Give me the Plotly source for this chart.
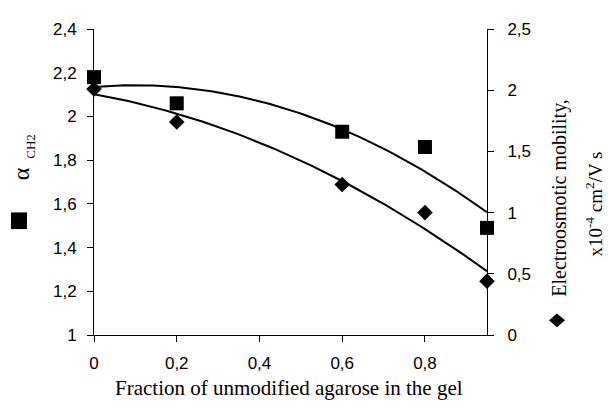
import numpy as np
import plotly.graph_objects as go

# ---- data ----
fraction = [0, 0.2, 0.6, 0.8, 0.95]
alpha_ch2 = [2.18, 2.06, 1.93, 1.86, 1.49]          # left axis (squares)
eo_mobility = [2.01, 1.74, 1.23, 1.00, 0.44]        # right axis (diamonds)
x_ticks = [0, 0.2, 0.4, 0.6, 0.8]
left_ticks = [1, 1.2, 1.4, 1.6, 1.8, 2, 2.2, 2.4]
right_ticks = [0, 0.5, 1, 1.5, 2, 2.5]

# quadratic trend lines (as in the spreadsheet original)
xs = np.linspace(min(fraction), max(fraction), 120)
fit_a = np.polyval(np.polyfit(fraction, alpha_ch2, 2), xs)
fit_e = np.polyval(np.polyfit(fraction, eo_mobility, 2), xs)

OFF = 8  # default page body margin
W, H = 613 - OFF, 408 - OFF
L, T = 94 - OFF, 23 - OFF
R, B = 126, 73
PW, PH = W - L - R, H - T - B


def px(x):
    return (x - OFF - L) / PW


def py(y):
    return (H - B - (y - OFF)) / PH


TICKFONT = dict(family="Liberation Sans, Arial", size=17, color="black")
SERIF = "Liberation Serif, Times New Roman"

fig = go.Figure()
fig.add_trace(go.Scatter(x=xs, y=fit_a, mode="lines",
                         line=dict(color="black", width=2), yaxis="y",
                         hoverinfo="skip", showlegend=False))
fig.add_trace(go.Scatter(x=xs, y=fit_e, mode="lines",
                         line=dict(color="black", width=2), yaxis="y2",
                         hoverinfo="skip", showlegend=False))
fig.add_trace(go.Scatter(x=fraction, y=alpha_ch2, mode="markers",
                         marker=dict(symbol="square", size=14, color="black"),
                         yaxis="y", cliponaxis=False, showlegend=False))
fig.add_trace(go.Scatter(x=fraction, y=eo_mobility, mode="markers",
                         marker=dict(symbol="diamond", size=12, color="black"),
                         yaxis="y2", cliponaxis=False, showlegend=False))

fig.update_layout(
    width=W, height=H,
    margin=dict(l=L, r=R, t=T, b=B, pad=0),
    paper_bgcolor="white", plot_bgcolor="white",
    separators=", ",
    showlegend=False,
    xaxis=dict(range=[0, 0.95], tickvals=x_ticks, showgrid=False, zeroline=False,
               showline=True, linecolor="black", linewidth=1,
               ticks="outside", ticklen=6, tickcolor="black",
               tickfont=TICKFONT, ticklabelstandoff=7),
    yaxis=dict(range=[1, 2.4], tickvals=left_ticks, showgrid=False, zeroline=False,
               showline=True, linecolor="black", linewidth=1,
               ticks="outside", ticklen=6, tickcolor="black",
               tickfont=TICKFONT, ticklabelstandoff=7),
    yaxis2=dict(range=[0, 2.5], tickvals=right_ticks, overlaying="y", side="right",
                showgrid=False, zeroline=False,
                showline=True, linecolor="black", linewidth=1,
                ticks="outside", ticklen=6, tickcolor="black",
                tickfont=TICKFONT, ticklabelstandoff=10),
)

ann = [
    dict(text="Fraction of unmodified agarose in the gel", x=px(289), y=py(389),
         font=dict(family=SERIF, size=21, color="black")),
    dict(text="α", x=px(21), y=py(171), textangle=-90,
         font=dict(family=SERIF, size=24, color="black")),
    dict(text="CH2", x=px(31), y=py(143), textangle=-90,
         font=dict(family=SERIF, size=13, color="black")),
    dict(text="Electroosmotic mobility,", x=px(560), y=py(195), textangle=-90,
         font=dict(family=SERIF, size=20, color="black")),
    dict(text="x10<sup>-4</sup> cm<sup>2</sup>/V s", x=px(594), y=py(202), textangle=-90,
         font=dict(family=SERIF, size=19, color="black")),
]
for a in ann:
    fig.add_annotation(xref="paper", yref="paper", showarrow=False,
                       xanchor="center", yanchor="middle", **a)

# legend-like symbols next to the axis titles
fig.add_shape(type="rect", xref="paper", yref="paper",
              x0=px(11), x1=px(27), y0=py(227), y1=py(210),
              fillcolor="black", line=dict(width=0))
cx, cy = 557, 320
fig.add_shape(type="path", xref="paper", yref="paper",
              path=f"M {px(cx-8)},{py(cy)} L {px(cx)},{py(cy-7)} L {px(cx+8)},{py(cy)} L {px(cx)},{py(cy+7)} Z",
              fillcolor="black", line=dict(width=0))

fig.write_html("out.html")
